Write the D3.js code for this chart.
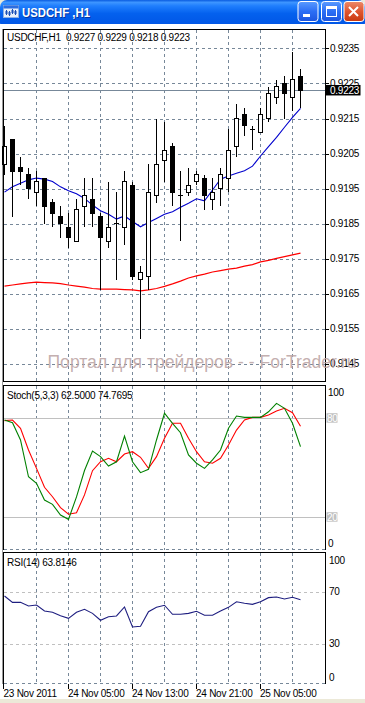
<!DOCTYPE html>
<html><head><meta charset="utf-8">
<script src="https://cdn.jsdelivr.net/npm/d3@7"></script>
<style>
html,body{margin:0;padding:0;background:#fff;}
svg{display:block;}
.lbl{font-family:"Liberation Sans",Arial,sans-serif;font-size:10px;letter-spacing:-0.25px;white-space:pre;}
</style></head><body><svg id="c" width="365" height="703"></svg>
<script>
// ---------------- DATA ----------------
const windowTitle = "USDCHF ,H1";
const symbolLabel = "USDCHF,H1";
const opens  = [0.9202,0.9209,0.9201,0.9199,0.9194,0.9198,0.9191,0.9187,0.9184,0.9180,0.9190,0.9192,0.9187,0.9180,0.9185,0.9184,0.9196,0.9169,0.9170,0.9193,0.9203,0.9207,0.9193,0.9194,0.9197,0.9198,0.9192,0.9195,0.9198,0.9207,0.9216,0.9212,0.9211,0.9215,0.9221,0.9225,0.9221,0.9227];
const highs  = [0.9213,0.9209,0.9204,0.9201,0.9200,0.9198,0.9192,0.9190,0.9188,0.9192,0.9198,0.9198,0.9188,0.9197,0.9194,0.9200,0.9197,0.9173,0.9202,0.9215,0.9214,0.9208,0.9200,0.9201,0.9200,0.9199,0.9198,0.9201,0.9212,0.9219,0.9218,0.9213,0.9218,0.9224,0.9226,0.9227,0.9234,0.9229];
const lows   = [0.9199,0.9187,0.9196,0.9192,0.9190,0.9185,0.9184,0.9181,0.9178,0.9180,0.9184,0.9184,0.9166,0.9178,0.9169,0.9179,0.9169,0.9152,0.9166,0.9191,0.9197,0.9190,0.9180,0.9193,0.9196,0.9189,0.9189,0.9190,0.9194,0.9204,0.9210,0.9206,0.9211,0.9214,0.9219,0.9215,0.9217,0.9218];
const closes = [0.9207,0.9200,0.9200,0.9195,0.9197,0.9190,0.9188,0.9185,0.9181,0.9189,0.9193,0.9188,0.9181,0.9184,0.9185,0.9197,0.9170,0.9171,0.9194,0.9202,0.9206,0.9194,0.9193,0.9196,0.9199,0.9193,0.9194,0.9199,0.9206,0.9215,0.9213,0.9212,0.9216,0.9222,0.9224,0.9222,0.9226,0.9223];
const maFast = [0.91940,0.91955,0.91965,0.91975,0.91980,0.91977,0.91970,0.91955,0.91944,0.91935,0.91922,0.91903,0.91887,0.91877,0.91863,0.91872,0.91856,0.91841,0.91853,0.91865,0.91877,0.91884,0.91897,0.91908,0.91921,0.91915,0.91946,0.91977,0.91986,0.91994,0.92001,0.92014,0.92043,0.92070,0.92096,0.92125,0.92153,0.92179];
const maSlow = [0.91672,0.91675,0.91678,0.91681,0.91683,0.91682,0.91681,0.91679,0.91675,0.91672,0.91669,0.91665,0.91663,0.91663,0.91663,0.91662,0.91661,0.91658,0.91661,0.91665,0.91671,0.91678,0.91686,0.91695,0.91701,0.91706,0.91712,0.91716,0.91720,0.91723,0.91729,0.91733,0.91741,0.91745,0.91751,0.91756,0.91761,0.91766];
const stochK = [78.6,77.0,66.5,44.2,40.2,30.1,27.5,21.0,18.4,32.0,48.0,59.8,56.4,50.7,53.3,68.9,53.3,46.7,48.7,66.5,82.7,76.6,70.9,57.4,52.4,49.3,54.4,60.4,73.6,81.0,80.2,80.2,80.2,83.6,88.7,85.7,76.6,62.5];
const stochD = [78.2,78.6,73.6,60.4,49.3,37.8,32.1,25.5,21.5,22.4,33.2,47.9,53.3,55.4,53.3,58.0,59.4,56.0,49.3,56.4,67.5,76.6,76.6,67.5,59.4,53.3,52.4,55.4,63.5,72.5,78.6,80.2,80.2,81.6,84.1,85.7,83.0,74.7695];
const rsi    = [66.7,61.8,61.8,59.0,59.8,55.2,54.2,51.6,49.6,54.2,56.5,53.4,48.1,50.8,51.4,58.3,43.0,43.5,54.7,58.0,59.6,52.7,52.7,53.4,55.0,51.9,51.9,55.2,58.0,62.3,61.1,60.3,62.3,65.4,65.9,64.4,65.7,63.8146];
const priceTicks = [0.9235,0.9225,0.9215,0.9205,0.9195,0.9185,0.9175,0.9165,0.9155,0.9145];
const stochLevels = [80,20];
const rsiLevels = [70,30];
const gridBars = [4,8,12,16,20,24,28,32,36];
const timeBars = [0,8,16,24,32];
const timeLabels = ["23 Nov 2011","24 Nov 05:00","24 Nov 13:00","24 Nov 21:00","25 Nov 05:00"];
const watermark = "Портал для трейдеров - - ForTrader.ru";

// ---------------- LAYOUT ----------------
const n = closes.length;
const L = 3.5, R = 325.5;
const main = {top:29.5, bottom:381.5};
const stP  = {top:385.5, bottom:549.5};
const rsP  = {top:552.5, bottom:683.5};
const GRID = "#778899";
const f4 = d3.format(".4f");

const x = d3.scaleLinear().domain([0, n-1]).range([4.5, 4.5 + 8*(n-1)]);
const y = d3.scaleLinear().domain([0.9145, 0.9235]).range([363.85, 48.4]);
const yS = d3.scaleLinear().domain([0,100]).range([549.7, 384.7]);
const yR = d3.scaleLinear().domain([0,100]).range([683.2, 552.4]);

const svg = d3.select("#c");
const defs = svg.append("defs");
function grad(id, stops){
  const g = defs.append("linearGradient").attr("id",id).attr("x1",0).attr("y1",0).attr("x2",0).attr("y2",1);
  stops.forEach(s=>g.append("stop").attr("offset",s[0]).attr("stop-color",s[1]));
}
grad("tb",[[0,"#0A5CE0"],[0.08,"#3D95FF"],[0.2,"#1F7EFD"],[0.45,"#0461EE"],[0.85,"#0055E5"],[1,"#0046D2"]]);
grad("btn",[[0,"#5A9BFF"],[0.5,"#2B6EF5"],[1,"#1C55E0"]]);
grad("cls",[[0,"#EC8A6A"],[0.5,"#DF5530"],[1,"#C8390F"]]);

// window background & frame
svg.append("rect").attr("width",365).attr("height",703).attr("fill","#ECE9D8");
svg.append("rect").attr("x",0).attr("y",20).attr("width",365).attr("height",679).attr("fill","#fff");
svg.append("rect").attr("x",0).attr("y",0).attr("width",365).attr("height",30).attr("rx",7).attr("fill","url(#tb)");
svg.append("rect").attr("x",0).attr("y",24).attr("width",365).attr("height",675).attr("fill","#fff");

// icon
const ic = svg.append("g");
ic.append("rect").attr("x",3.5).attr("y",5.5).attr("width",15).attr("height",12).attr("fill","#E8F0FB").attr("stroke","#8FB0E0");
ic.append("rect").attr("x",3.5).attr("y",5.5).attr("width",15).attr("height",3).attr("fill","#2C6DE0");
[[6,10,15],[9,11,16],[12,9,14],[15,10,15]].forEach(c=>{
  ic.append("line").attr("x1",c[0]+0.5).attr("x2",c[0]+0.5).attr("y1",c[1]).attr("y2",c[2]).attr("stroke","#1A4FB5");
  ic.append("rect").attr("x",c[0]-0.5).attr("y",c[1]+1).attr("width",2).attr("height",3).attr("fill","#1A4FB5");
});
// title text
svg.append("text").attr("x",23).attr("y",17.5).attr("fill","#0A1E70").attr("opacity",0.6)
  .attr("font-family","Liberation Sans, Arial, sans-serif").attr("font-weight","bold").attr("font-size","13px")
  .attr("textLength",68).attr("lengthAdjust","spacingAndGlyphs").text(windowTitle);
svg.append("text").attr("x",22).attr("y",16.5).attr("fill","#fff")
  .attr("font-family","Liberation Sans, Arial, sans-serif").attr("font-weight","bold").attr("font-size","13px")
  .attr("textLength",68).attr("lengthAdjust","spacingAndGlyphs").text(windowTitle);
// buttons
function button(bx, fill){
  svg.append("rect").attr("x",bx+0.5).attr("y",1.5).attr("width",20).attr("height",20).attr("rx",3)
    .attr("fill",fill).attr("stroke","#fff");
}
button(297.5,"url(#btn)"); button(321,"url(#btn)"); button(343.5,"url(#cls)");
svg.append("rect").attr("x",303).attr("y",14).attr("width",7).attr("height",3).attr("fill","#fff");
svg.append("rect").attr("x",326.5).attr("y",6.5).attr("width",10).attr("height",10).attr("fill","none").attr("stroke","#fff");
svg.append("rect").attr("x",326).attr("y",6).attr("width",11).attr("height",3).attr("fill","#fff");
svg.append("path").attr("d","M349,7L358,16M358,7L349,16").attr("stroke","#fff").attr("stroke-width",2);

// left double frame line
svg.append("line").attr("x1",2.5).attr("x2",2.5).attr("y1",29).attr("y2",684).attr("stroke","#9A9A9A");

// ---------------- MAIN PANEL ----------------
const gm = svg.append("g");
[main, stP, rsP].forEach(p=>{
  gm.append("g").selectAll("line").data(gridBars).join("line")
    .attr("x1",d=>x(d)).attr("x2",d=>x(d)).attr("y1",p.top).attr("y2",p.bottom)
    .attr("stroke",GRID).attr("stroke-dasharray","3,3").attr("shape-rendering","crispEdges");
});
gm.append("g").selectAll("line").data(priceTicks).join("line")
  .attr("x1",L).attr("x2",R).attr("y1",d=>Math.round(y(d))+0.5).attr("y2",d=>Math.round(y(d))+0.5)
  .attr("stroke",GRID).attr("stroke-dasharray","3,3").attr("shape-rendering","crispEdges");
const last = closes[n-1];
gm.append("line").attr("x1",L).attr("x2",R).attr("y1",Math.round(y(last))+0.5).attr("y2",Math.round(y(last))+0.5)
  .attr("stroke",GRID).attr("shape-rendering","crispEdges");

const lineMain = d3.line().x((d,i)=>x(i)).y(d=>y(d));
gm.append("path").attr("d",lineMain(maSlow)).attr("fill","none").attr("stroke","#FF0000").attr("stroke-width",1.2);
gm.append("path").attr("d",lineMain(maFast)).attr("fill","none").attr("stroke","#0000CD").attr("stroke-width",1.1);

const idx = d3.range(n);
const cg = gm.append("g").attr("shape-rendering","crispEdges");
cg.selectAll("line").data(idx).join("line")
  .attr("x1",i=>x(i)).attr("x2",i=>x(i))
  .attr("y1",i=>y(highs[i])).attr("y2",i=>y(lows[i]))
  .attr("stroke","#000");
cg.selectAll("rect").data(idx).join("rect")
  .attr("x",i=>x(i)-2).attr("width",4)
  .attr("y",i=>y(Math.max(opens[i],closes[i])))
  .attr("height",i=>Math.max(0.01, Math.abs(y(opens[i])-y(closes[i]))))
  .attr("fill",i=>closes[i]>=opens[i] ? "#fff" : "#000")
  .attr("stroke","#000");

gm.append("rect").attr("x",L).attr("y",main.top).attr("width",R-L).attr("height",main.bottom-main.top)
  .attr("fill","none").attr("stroke","#000").attr("shape-rendering","crispEdges");

// price axis labels
const pa = svg.append("g");
pa.selectAll("line").data(priceTicks).join("line")
  .attr("x1",R).attr("x2",R+3.5).attr("y1",d=>Math.round(y(d))+0.5).attr("y2",d=>Math.round(y(d))+0.5)
  .attr("stroke","#000").attr("shape-rendering","crispEdges");
pa.selectAll("text").data(priceTicks).join("text").attr("class","lbl")
  .attr("x",330).attr("y",d=>y(d)+3.5).attr("fill","#000").text(d=>f4(d));
pa.append("rect").attr("x",326).attr("y",y(last)-5.5).attr("width",34.5).attr("height",10.5).attr("fill","#000");
pa.append("text").attr("class","lbl").attr("x",330).attr("y",y(last)+4).attr("fill","#fff").text(f4(last));

// header
svg.append("text").attr("class","lbl").attr("x",7).attr("y",40.5).attr("fill","#000")
  .text(symbolLabel+"  "+[opens[n-1],highs[n-1],lows[n-1],closes[n-1]].map(f4).join(" "));

// ---------------- STOCH ----------------
const gs = svg.append("g");
gs.selectAll("line.lv").data(stochLevels).join("line").attr("class","lv")
  .attr("x1",L).attr("x2",R).attr("y1",d=>Math.round(yS(d))+0.5).attr("y2",d=>Math.round(yS(d))+0.5)
  .attr("stroke","#C0C0C0").attr("shape-rendering","crispEdges");
const lineS = d3.line().x((d,i)=>x(i)).y(d=>yS(d));
gs.append("path").attr("d",lineS(stochD)).attr("fill","none").attr("stroke","#FF0000").attr("stroke-width",1.1);
gs.append("path").attr("d",lineS(stochK)).attr("fill","none").attr("stroke","#008000").attr("stroke-width",1.1);
gs.append("path").attr("d",`M${L},${stP.bottom}V${stP.top}H${R}V${stP.bottom}`).attr("fill","none")
  .attr("stroke","#000").attr("shape-rendering","crispEdges");
gs.append("line").attr("x1",L).attr("x2",R).attr("y1",stP.bottom).attr("y2",stP.bottom)
  .attr("stroke",GRID).attr("stroke-dasharray","3,3").attr("shape-rendering","crispEdges");
gs.append("text").attr("class","lbl").attr("x",7).attr("y",399).attr("fill","#000")
  .text(`Stoch(5,3,3) ${stochK[n-1].toFixed(4)} ${stochD[n-1].toFixed(4)}`);
gs.append("text").attr("class","lbl").attr("x",328).attr("y",395.5).text("100");
gs.append("text").attr("class","lbl").attr("x",328).attr("y",546.5).text("0");
stochLevels.forEach(v=>{
  gs.append("rect").attr("x",326.5).attr("y",yS(v)-4.5).attr("width",11).attr("height",9.5).attr("fill","#C0C0C0");
  gs.append("text").attr("class","lbl").attr("x",327).attr("y",yS(v)+3.8).attr("fill","#fff").text(v);
});

// ---------------- RSI ----------------
const gr = svg.append("g");
gr.selectAll("line.lv").data(rsiLevels).join("line").attr("class","lv")
  .attr("x1",L).attr("x2",R).attr("y1",d=>Math.round(yR(d))+0.5).attr("y2",d=>Math.round(yR(d))+0.5)
  .attr("stroke","#C0C0C0").attr("stroke-dasharray","3,3").attr("shape-rendering","crispEdges");
const lineR = d3.line().x((d,i)=>x(i)).y(d=>yR(d));
gr.append("path").attr("d",lineR(rsi)).attr("fill","none").attr("stroke","#1E1E80").attr("stroke-width",1.1);
gr.append("path").attr("d",`M${L},${rsP.bottom}V${rsP.top}H${R}V${rsP.bottom}`).attr("fill","none")
  .attr("stroke","#000").attr("shape-rendering","crispEdges");
gr.append("line").attr("x1",L).attr("x2",R).attr("y1",rsP.bottom).attr("y2",rsP.bottom)
  .attr("stroke",GRID).attr("stroke-dasharray","3,3").attr("shape-rendering","crispEdges");
gr.append("text").attr("class","lbl").attr("x",7).attr("y",565.7).attr("fill","#000")
  .text(`RSI(14) ${rsi[n-1].toFixed(4)}`);
gr.append("text").attr("class","lbl").attr("x",329).attr("y",563.5).text("100");
gr.append("text").attr("class","lbl").attr("x",329).attr("y",681).text("0");
rsiLevels.forEach(v=>{
  gr.append("text").attr("class","lbl").attr("x",329).attr("y",yR(v)+3.5).text(v);
});

// ---------------- TIME AXIS ----------------
const ta = svg.append("g");
ta.selectAll("line").data(timeBars).join("line")
  .attr("x1",(d,i)=>i===0?3.5:x(d)).attr("x2",(d,i)=>i===0?3.5:x(d)).attr("y1",683.5).attr("y2",688.5)
  .attr("stroke","#000").attr("shape-rendering","crispEdges");
ta.selectAll("text").data(timeBars).join("text").attr("class","lbl")
  .attr("x",(d,i)=>i===0?3.5:x(d)-0.5).attr("y",696.5).attr("fill","#000").text((d,i)=>timeLabels[i]);

// ---------------- WATERMARK ----------------
svg.append("text").attr("x",47.5).attr("y",368).attr("fill","#BCA5A5").attr("fill-opacity",0.9)
  .attr("font-family","Liberation Sans, Arial, sans-serif").attr("font-size","18px")
  .attr("textLength",309).attr("lengthAdjust","spacingAndGlyphs").text(watermark);
</script></body></html>
